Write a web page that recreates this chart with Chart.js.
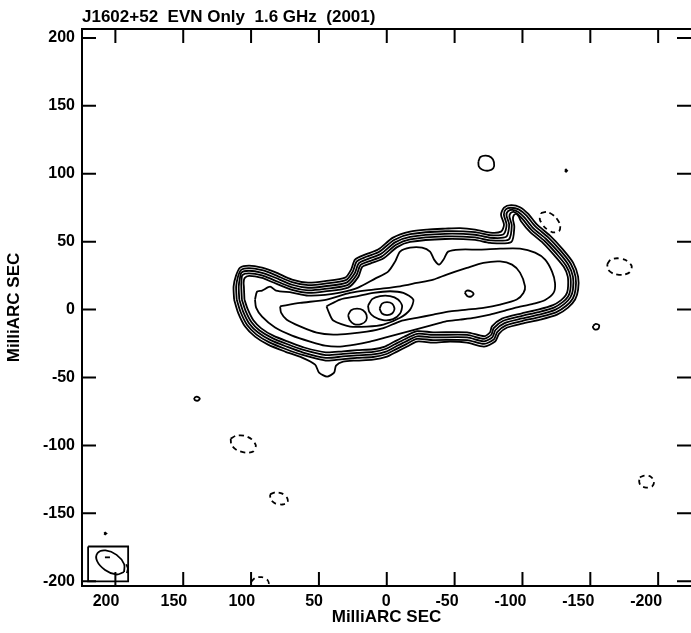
<!DOCTYPE html>
<html>
<head>
<meta charset="utf-8">
<title>J1602+52 EVN Only 1.6 GHz (2001)</title>
<script src="https://cdn.jsdelivr.net/npm/chart.js@4.4.1/dist/chart.umd.min.js"></script>
<style>
  html, body { margin: 0; padding: 0; background: #fff; }
  canvas { display: block; }
</style>
</head>
<body>
<canvas id="map" width="691" height="633"></canvas>
<script>
// titre et graduations
const chartTitle = 'J1602+52  EVN Only  1.6 GHz  (2001)';
const axisTitle = 'MilliARC SEC';
const xTickValues = [200, 150, 100, 50, 0, -50, -100, -150, -200];
const yTickValues = [200, 150, 100, 50, 0, -50, -100, -150, -200];

// contours positifs (mas) : groupe extérieur, du plus bas au plus haut niveau
const level1 = [[112.5,7.4],[112.9,16.9],[111.1,25.0],[108.1,30.9],[101.5,32.4],[91.9,30.9],[82.3,27.6],[69.8,22.1],[58.0,19.9],[45.5,21.0],[30.7,23.5],[26.3,29.4],[23.4,36.8],[16.0,40.5],[6.4,44.2],[-4.6,53.0],[-17.2,57.4],[-29.7,58.9],[-43.0,59.6],[-54.0,60.0],[-65.1,58.9],[-76.1,56.7],[-84.2,57.4],[-86.4,62.5],[-84.2,69.9],[-86.4,75.1],[-91.6,76.9],[-98.2,75.4],[-104.1,70.6],[-110.8,62.5],[-120.3,54.5],[-129.9,44.2],[-137.3,34.6],[-141.0,24.3],[-141.0,14.7],[-138.8,7.4],[-133.6,1.5],[-125.5,-3.7],[-113.0,-7.4],[-99.7,-10.3],[-88.7,-13.2],[-82.8,-17.7],[-79.8,-23.5],[-71.7,-27.2],[-59.2,-24.3],[-46.6,-23.5],[-34.1,-24.3],[-22.3,-23.5],[-15.0,-27.2],[-7.6,-30.9],[-0.2,-34.6],[10.1,-36.8],[21.9,-37.5],[32.2,-38.3],[37.4,-41.2],[38.8,-46.4],[44.0,-49.3],[49.9,-46.4],[52.8,-40.5],[62.4,-35.3],[74.9,-30.9],[87.5,-25.8],[97.1,-19.9],[104.4,-12.5],[109.6,-2.2]];
const level2 = [[110.6,7.4],[111.0,16.9],[109.8,23.7],[107.5,29.1],[101.5,30.5],[91.9,29.0],[82.9,25.8],[69.8,20.2],[58.0,18.0],[45.5,19.1],[30.2,21.7],[25.0,28.1],[22.1,35.5],[15.1,38.9],[5.5,42.6],[-5.4,51.3],[-17.2,55.5],[-43.0,57.7],[-65.1,57.0],[-76.1,54.8],[-86.1,55.5],[-88.3,62.5],[-86.3,69.9],[-87.7,73.8],[-91.6,75.0],[-97.2,73.8],[-102.8,69.3],[-109.5,61.2],[-119.0,53.2],[-128.4,43.1],[-135.6,33.8],[-139.1,24.3],[-139.1,14.7],[-137.1,8.2],[-132.3,2.8],[-124.7,-2.0],[-112.6,-5.5],[-99.7,-8.4],[-87.8,-11.6],[-81.5,-16.4],[-78.9,-21.9],[-71.7,-25.3],[-59.2,-22.4],[-34.1,-22.4],[-22.3,-21.6],[-14.4,-25.4],[-7.0,-29.1],[0.2,-32.7],[10.1,-34.9],[21.9,-35.6],[32.2,-36.4],[45.0,-37.5],[62.0,-33.4],[74.1,-29.2],[86.5,-24.1],[96.0,-18.4],[102.9,-11.4],[107.8,-1.6]];
const level3 = [[108.7,7.4],[109.1,16.9],[108.4,22.3],[107.0,27.3],[101.5,28.6],[91.9,27.1],[83.4,24.0],[69.8,18.3],[58.0,16.1],[45.5,17.2],[29.6,19.9],[23.6,26.7],[20.7,34.1],[14.1,37.2],[4.5,40.9],[-6.1,49.5],[-17.2,53.6],[-43.0,55.8],[-65.1,55.1],[-76.1,52.9],[-88.0,53.6],[-90.2,62.5],[-88.2,69.5],[-89.3,72.4],[-92.5,73.5],[-96.6,72.0],[-101.4,67.9],[-108.1,59.8],[-117.6,51.8],[-126.9,41.9],[-133.8,33.0],[-137.2,24.3],[-137.2,14.7],[-135.3,9.0],[-130.9,4.2],[-124.0,-0.2],[-112.2,-3.7],[-99.7,-6.5],[-86.8,-9.9],[-80.1,-15.0],[-77.9,-20.2],[-71.7,-23.4],[-59.2,-20.5],[-34.1,-20.5],[-22.3,-19.7],[-13.9,-23.6],[-6.5,-27.3],[0.6,-30.9],[10.1,-33.0],[21.9,-33.7],[32.2,-34.5],[45.0,-35.5],[61.6,-31.6],[73.4,-27.4],[85.6,-22.5],[94.8,-16.9],[101.4,-10.2],[106.0,-1.1]];
const level4 = [[106.8,7.4],[107.2,16.9],[107.1,21.0],[106.4,25.4],[101.5,26.7],[91.9,25.2],[84.0,22.1],[69.8,16.4],[58.0,14.2],[45.5,15.3],[29.0,18.0],[22.3,25.4],[19.4,32.8],[13.2,35.5],[3.6,39.2],[-6.9,47.8],[-17.2,51.7],[-43.0,53.9],[-65.1,53.2],[-76.1,51.0],[-89.9,51.7],[-92.1,62.0],[-90.4,68.5],[-91.2,71.0],[-93.5,72.0],[-96.5,70.3],[-100.1,66.6],[-106.8,58.5],[-116.3,50.5],[-125.3,40.8],[-132.1,32.3],[-135.3,24.3],[-135.3,14.7],[-133.6,9.7],[-129.6,5.5],[-123.2,1.5],[-111.9,-1.8],[-99.7,-4.6],[-85.9,-8.2],[-78.8,-13.7],[-77.0,-18.5],[-71.7,-21.5],[-59.2,-18.6],[-34.1,-18.6],[-22.3,-17.8],[-13.3,-21.8],[-5.9,-25.5],[1.0,-29.0],[10.1,-31.1],[21.9,-31.8],[32.2,-32.6],[45.0,-33.5],[61.3,-29.7],[72.6,-25.7],[84.6,-20.8],[93.7,-15.4],[99.8,-9.1],[104.2,-0.5]];
const level5 = [[104.9,7.4],[105.3,16.9],[105.5,19.9],[104.8,23.2],[101.5,24.8],[91.9,23.3],[84.5,20.3],[69.8,14.5],[58.0,12.3],[45.5,13.4],[28.5,16.2],[21.0,24.1],[18.1,31.5],[12.2,33.9],[2.6,37.6],[-7.6,46.0],[-17.2,49.8],[-43.0,52.0],[-65.1,51.3],[-76.1,49.1],[-91.8,49.8],[-94.0,61.0],[-93.0,66.5],[-93.6,69.5],[-95.5,70.5],[-97.3,68.5],[-98.8,65.3],[-105.5,57.2],[-115.0,49.2],[-123.8,39.6],[-130.4,31.5],[-133.4,24.3],[-133.4,14.7],[-131.9,10.5],[-128.3,6.8],[-122.5,3.3],[-111.5,0.0],[-99.7,-2.7],[-84.9,-6.6],[-77.5,-12.4],[-76.0,-16.9],[-71.7,-19.6],[-59.2,-16.7],[-34.1,-16.7],[-22.3,-15.9],[-12.8,-20.0],[-5.4,-23.7],[1.4,-27.2],[10.1,-29.2],[21.9,-29.9],[32.2,-30.7],[45.0,-31.5],[60.9,-27.9],[71.9,-23.9],[83.7,-19.2],[92.5,-13.8],[98.3,-7.9],[102.4,0.1]];

// contours intérieurs
const level6 = [[97.1,7.4],[95.6,13.2],[91.9,14.0],[86.0,16.9],[81.6,14.0],[69.8,12.5],[58.0,10.3],[45.5,10.8],[34.4,12.5],[21.1,16.2],[8.6,22.8],[-1.0,28.0],[-6.1,35.3],[-9.8,42.7],[-17.2,45.6],[-26.0,45.6],[-31.9,42.7],[-34.9,36.8],[-38.5,33.1],[-42.2,37.5],[-45.2,42.7],[-54.0,44.2],[-68.8,44.2],[-83.5,44.9],[-98.2,44.9],[-109.3,41.9],[-116.7,36.8],[-121.8,28.0],[-124.0,19.5],[-123.0,12.5],[-116.7,7.0],[-109.3,4.5],[-98.2,2.2],[-87.2,-0.7],[-76.1,-3.7],[-65.1,-5.9],[-54.0,-7.4],[-43.0,-8.8],[-31.9,-11.8],[-20.9,-14.7],[-9.8,-17.7],[1.3,-20.6],[12.3,-23.5],[23.4,-25.8],[34.4,-27.2],[45.5,-26.5],[56.5,-23.5],[69.8,-19.1],[82.3,-13.2],[91.9,-5.2],[96.3,1.5]];
const level7 = [[78.6,2.4],[63.9,4.9],[44.2,7.4],[27.0,12.3],[9.9,14.7],[-9.8,17.1],[-22.1,19.6],[-34.3,22.1],[-44.2,25.8],[-59.0,30.7],[-71.2,34.4],[-83.5,35.5],[-92.3,33.1],[-98.2,27.2],[-101.9,17.1],[-100.7,12.3],[-95.8,7.4],[-83.5,3.7],[-71.2,1.3],[-59.0,0.0],[-46.6,-1.3],[-34.3,-3.7],[-22.1,-6.1],[-9.8,-8.6],[2.5,-13.6],[14.7,-16.2],[27.0,-17.7],[39.4,-18.4],[51.6,-16.9],[63.9,-12.3],[73.7,-7.4],[77.9,-2.2]];
const level8 = [[44.4,2.4],[34.4,7.4],[22.1,9.8],[9.9,12.3],[-2.4,13.5],[-12.2,12.3],[-19.6,7.4],[-17.2,0.0],[-9.8,-6.0],[2.5,-11.0],[14.7,-12.5],[27.0,-12.5],[39.4,-8.1],[43.0,-1.3]];
const eastIsland = [[-57.5,12.5],[-59.0,14.0],[-62.0,13.5],[-64.0,11.5],[-62.5,9.8],[-59.5,9.8]];
const westPeak = [[28.5,-4.0],[26.3,-0.4],[21.9,0.7],[17.5,-0.4],[14.9,-4.0],[15.3,-8.1],[18.9,-10.7],[24.1,-10.7],[27.4,-7.7]];
const corePeak = [[13.8,2.9],[10.8,7.7],[4.9,9.9],[-2.4,9.9],[-8.3,7.4],[-11.3,2.9],[-9.8,-2.9],[-4.6,-7.0],[2.7,-7.7],[9.4,-5.2],[13.0,-1.5]];
const coreInner = [[5.3,0.7],[3.5,4.4],[-0.2,5.5],[-3.9,4.4],[-5.7,0.7],[-3.9,-2.9],[-0.2,-4.0],[3.5,-2.9]];

// petites composantes isolées
const northBlob = [[-67.5,109.0],[-69.0,112.3],[-73.0,113.3],[-77.0,112.0],[-79.0,108.5],[-78.5,104.0],[-75.0,102.3],[-70.5,103.0],[-67.8,105.5]];
const northDot = [[-131.3,102.3],[-132.1,103.1],[-132.9,102.3],[-132.1,101.5]];
const eastSpot = [[-152.0,-12.0],[-154.0,-10.5],[-156.5,-11.5],[-156.0,-14.0],[-153.5,-14.7],[-152.0,-13.3]];
const westSpot = [[142.0,-65.0],[140.0,-64.0],[137.8,-65.5],[139.0,-67.0],[141.5,-66.5]];
const southDot = [[208.3,-164.8],[207.5,-164.2],[206.7,-164.8],[207.5,-165.4]];

// contours négatifs (tirets)
const negA = [[-113.6,71.1],[-118.3,71.9],[-124.2,68.3],[-127.8,62.4],[-127.0,57.7],[-122.3,56.9],[-116.4,60.5],[-112.8,66.4]];
const negB = [[-162.5,33.5],[-165.0,36.8],[-170.0,37.8],[-176.0,36.5],[-180.5,32.0],[-179.0,27.5],[-174.0,25.6],[-167.0,26.5],[-163.0,29.5]];
const negC = [[115.0,-95.0],[111.0,-92.8],[105.0,-92.8],[99.5,-95.5],[96.5,-100.0],[98.5,-104.5],[104.0,-105.3],[110.5,-103.5],[114.5,-99.5]];
const negD = [[86.0,-136.0],[82.0,-134.5],[77.0,-135.5],[73.5,-138.5],[73.0,-142.0],[77.0,-143.5],[82.0,-142.8],[85.5,-140.0]];
const negE = [[-186.5,-123.5],[-190.0,-122.2],[-194.5,-123.0],[-197.0,-126.5],[-195.5,-130.3],[-191.0,-131.0],[-187.0,-129.5],[-186.0,-126.5]];
const negF = [[100.0,-200.5],[97.0,-197.5],[92.0,-197.0],[88.0,-199.0],[87.0,-202.0],[90.0,-205.0],[96.0,-205.0],[99.5,-203.0]];

// lobe du faisceau et son cadre
const beamEllipse = [[193.6,-193.2],[199.5,-195.0],[207.6,-191.7],[213.5,-185.1],[213.1,-179.2],[207.2,-177.3],[199.1,-180.6],[193.6,-187.3]];
const beamBox = [[220.1,-174.4],[190.6,-174.4],[190.6,-200.1],[220.1,-200.1]];
const beamMarks = [[207.7,-182.4],[204.0,-182.4]];
const beamArc = [[192.0,-187.5],[190.8,-190.5],[191.5,-194.0]];

const fontFamily = '"Liberation Sans", Arial, Helvetica, sans-serif';

function ring(points) {
    return points.concat([points[0]]);
}

function contour(points, dashed, tension) {
    return {
        data: points.map(p => ({ x: p[0], y: p[1] })),
        showLine: true,
        pointRadius: 0,
        pointHoverRadius: 0,
        borderColor: '#000',
        borderWidth: 1.8,
        borderDash: dashed ? [5, 4] : [],
        tension: tension === undefined ? 0.25 : tension,
        fill: false
    };
}

const datasets = [
    contour(ring(level1)), contour(ring(level2)), contour(ring(level3)),
    contour(ring(level4)), contour(ring(level5)), contour(ring(level6)),
    contour(ring(level7)), contour(ring(level8)), contour(ring(eastIsland)),
    contour(ring(westPeak)), contour(ring(corePeak)), contour(ring(coreInner)),
    contour(ring(northBlob)), contour(ring(northDot), false, 0),
    contour(ring(eastSpot)), contour(ring(westSpot)), contour(ring(southDot), false, 0),
    contour(ring(negA), true), contour(ring(negB), true), contour(ring(negC), true),
    contour(ring(negD), true), contour(ring(negE), true), contour(ring(negF), true),
    contour(ring(beamEllipse), false, 0.4), contour(ring(beamBox), false, 0),
    contour(beamMarks, false, 0), contour(beamArc)
];

// cadre, graduations intérieures sur les quatre côtés et titre
const frameTicks = {
    id: 'frameTicks',
    afterDatasetsDraw(chart) {
        const { ctx, chartArea: a, scales: { x, y } } = chart;
        ctx.save();
        ctx.strokeStyle = '#000';
        ctx.lineWidth = 2;
        ctx.beginPath();
        ctx.moveTo(a.right + 2, a.top);
        ctx.lineTo(a.left, a.top);
        ctx.lineTo(a.left, a.bottom);
        ctx.lineTo(a.right + 2, a.bottom);
        ctx.stroke();

        ctx.beginPath();
        xTickValues.forEach(v => {
            const px = x.getPixelForValue(v);
            ctx.moveTo(px, a.top);
            ctx.lineTo(px, a.top + 14);
            ctx.moveTo(px, a.bottom);
            ctx.lineTo(px, a.bottom - 14);
        });
        yTickValues.forEach(v => {
            const py = y.getPixelForValue(v);
            ctx.moveTo(a.left, py);
            ctx.lineTo(a.left + 14, py);
            ctx.moveTo(a.right, py);
            ctx.lineTo(a.right - 14, py);
        });
        ctx.stroke();

        ctx.fillStyle = '#000';
        ctx.font = 'bold 17px ' + fontFamily;
        ctx.textAlign = 'left';
        ctx.textBaseline = 'alphabetic';
        ctx.fillText(chartTitle, a.left, 22);
        ctx.restore();
    }
};

const tickFont = { family: fontFamily, size: 16, weight: 'bold' };
const titleFont = { family: fontFamily, size: 17, weight: 'bold' };

new Chart(document.getElementById('map'), {
    type: 'scatter',
    data: { datasets: datasets },
    options: {
        responsive: false,
        animation: false,
        events: [],
        layout: { padding: { top: 29, right: 0, bottom: 0, left: 0 } },
        plugins: {
            legend: { display: false },
            tooltip: { enabled: false }
        },
        scales: {
            x: {
                type: 'linear',
                reverse: true,
                min: -224.2,
                max: 224.6,
                afterBuildTicks: scale => { scale.ticks = xTickValues.map(v => ({ value: v })); },
                afterFit: scale => { scale.height = 47; },
                grid: { display: false, drawTicks: false },
                border: { display: false },
                ticks: {
                    color: '#000',
                    font: tickFont,
                    padding: 6,
                    align: 'end',
                    labelOffset: 4,
                    maxRotation: 0,
                    autoSkip: false,
                    callback: v => String(v)
                },
                title: {
                    display: true,
                    text: axisTitle,
                    color: '#000',
                    font: titleFont,
                    padding: { top: 0, bottom: 5 }
                }
            },
            y: {
                type: 'linear',
                min: -203.5,
                max: 206.6,
                afterBuildTicks: scale => { scale.ticks = yTickValues.map(v => ({ value: v })); },
                afterFit: scale => { scale.width = 82; },
                grid: { display: false, drawTicks: false },
                border: { display: false },
                ticks: {
                    color: '#000',
                    font: tickFont,
                    padding: 7,
                    autoSkip: false,
                    callback: v => String(v)
                },
                title: {
                    display: true,
                    text: axisTitle,
                    color: '#000',
                    font: titleFont,
                    padding: { top: 4, bottom: 0 }
                }
            }
        }
    },
    plugins: [frameTicks]
});
</script>
</body>
</html>
